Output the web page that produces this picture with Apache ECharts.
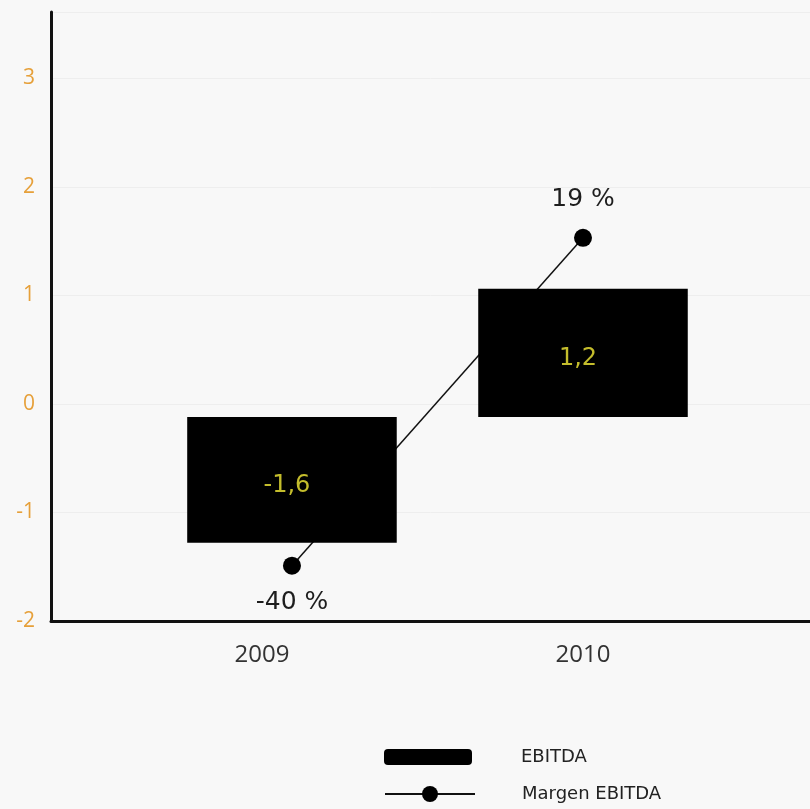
<!DOCTYPE html>
<html>
<head>
<meta charset="utf-8">
<script src="https://cdn.jsdelivr.net/npm/echarts@6/dist/echarts.min.js"></script>
<style>
html,body{margin:0;padding:0;background:#f8f8f8;}
#chart{width:810px;height:809px;}
</style>
</head>
<body>
<div id="chart"></div>
<script>
// ---- data ----
const years = [2009, 2010];
const yearLabels = ['2009', '2010'];
const ebitda = [-1.6, 1.2];                 // value labels
const ebitdaBarTop = [-0.12, 1.06];         // drawn bar extents (as in picture)
const ebitdaBarBottom = [-1.28, -0.12];
const margenPos = [-1.49, 1.53];            // drawn point heights
const margen = [-40, 19];                   // margin labels (%)
const yTicks = [-2, -1, 0, 1, 2, 3];

const fmt = v => String(v).replace('.', ',');
const FONT = '"Open Sans", "Noto Sans", sans-serif';
const WIDE = '"DejaVu Sans", sans-serif';

const barData = years.map((y, i) => [y, ebitdaBarBottom[i], ebitdaBarTop[i], ebitda[i]]);
const lineData = years.map((y, i) => ({
  value: [y, margenPos[i]],
  label: { position: margen[i] < 0 ? 'bottom' : 'top', distance: margen[i] < 0 ? 15 : 17 }
}));

const legendText = { fontSize: 18, color: '#222', fontFamily: WIDE, padding: [0, 0, 0, 44] };

const chart = echarts.init(document.getElementById('chart'), null, {renderer: 'canvas'});
chart.setOption({
  backgroundColor: '#f8f8f8',
  animation: false,
  grid: { left: 51, right: 0, top: 12, bottom: 188 },
  xAxis: {
    type: 'value', min: 2008.172, max: 2010.78,
    axisLine: { show: true, onZero: false, lineStyle: { color: '#111', width: 3 } },
    axisTick: { show: false },
    splitLine: { show: false },
    axisLabel: {
      customValues: years,
      formatter: v => {
        const i = years.indexOf(v);
        return i === 0 ? '{s|' + yearLabels[i] + '}' : (yearLabels[i] || '');
      },
      rich: { s: { padding: [0, 60, 0, 0], fontSize: 24, color: '#333', fontFamily: FONT } },
      color: '#333', fontSize: 24, fontFamily: FONT, margin: 22
    }
  },
  yAxis: {
    type: 'value', min: -2, max: 3.61, interval: 1,
    axisLine: { show: true, onZero: false, lineStyle: { color: '#111', width: 3 } },
    axisTick: { show: false },
    splitLine: { show: true, lineStyle: { color: '#eeeeee', width: 1 } },
    axisLabel: {
      customValues: yTicks,
      color: '#e6a03a', fontSize: 21, fontFamily: FONT, margin: 16
    }
  },
  legend: [
    {
      orient: 'vertical', left: 384, top: 748, padding: 0,
      itemWidth: 88, itemHeight: 16,
      textStyle: legendText,
      data: [{ name: 'EBITDA', icon: 'roundRect' }]
    },
    {
      orient: 'vertical', left: 384, top: 785, padding: 0,
      itemWidth: 90, itemHeight: 20,
      textStyle: Object.assign({}, legendText, { padding: [0, 0, 0, 42] }),
      data: [{ name: 'Margen EBITDA' }]
    }
  ],
  series: [
    {
      name: 'Margen EBITDA', type: 'line', z: 2,
      data: lineData,
      symbol: 'circle', symbolSize: 18,
      lineStyle: { color: '#111', width: 1.5 },
      itemStyle: { color: '#000' },
      label: {
        show: true, fontSize: 25, color: '#1e1e1e', fontFamily: WIDE,
        formatter: p => margen[p.dataIndex] + ' %'
      }
    },
    {
      name: 'EBITDA', type: 'custom', z: 3,
      itemStyle: { color: '#000' },
      data: barData,
      encode: { x: 0, y: [1, 2] },
      renderItem: (params, api) => {
        const x = api.value(0);
        const p1 = api.coord([x, api.value(2)]);
        const p2 = api.coord([x, api.value(1)]);
        const w = api.size([0.72, 0])[0];
        return {
          type: 'group',
          children: [
            { type: 'rect', shape: { x: p1[0] - w / 2, y: p1[1], width: w, height: p2[1] - p1[1] },
              style: { fill: '#000' } },
            { type: 'text', x: p1[0] - 5, y: (p1[1] + p2[1]) / 2 + 6,
              style: { text: fmt(api.value(3)), fill: '#c4bd2c', font: '24px ' + WIDE,
                       align: 'center', verticalAlign: 'middle' } }
          ]
        };
      }
    }
  ]
});
</script>
</body>
</html>
